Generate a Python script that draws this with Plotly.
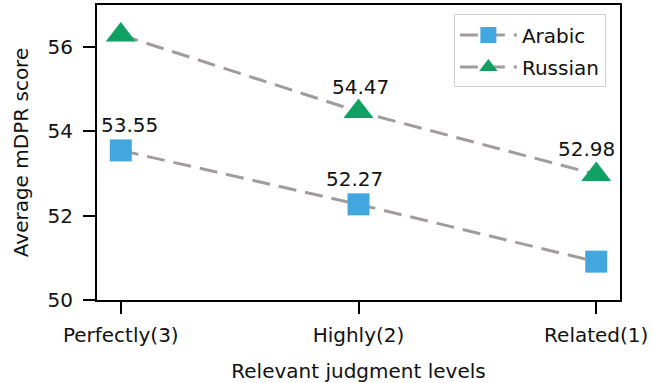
import plotly.graph_objects as go

levels = ["Perfectly(3)", "Highly(2)", "Related(1)"]
arabic = [53.55, 52.27, 50.91]
russian = [56.29, 54.47, 52.98]
# which points carry a value label, and small horizontal nudges for them
arabic_labeled = [True, True, False]
russian_labeled = [False, True, True]
arabic_shift = [9, -4, 0]
russian_shift = [0, 2, -10]

font_family = "DejaVu Sans"
text_size = 20
blue = "#42A7DE"
green = "#10A064"
line_gray = "#A09C9C"
dash_style = "18px,9px"

fig = go.Figure()
fig.add_trace(go.Scatter(
    x=list(range(len(levels))), y=arabic, name="Arabic",
    mode="lines+markers", legendgroup="ar",
    line=dict(color=line_gray, width=3, dash=dash_style),
    marker=dict(symbol="square", size=22, color=blue, line=dict(width=0)),
))
fig.add_trace(go.Scatter(
    x=list(range(len(levels))), y=russian, name="Russian",
    mode="lines+markers", legendgroup="ru",
    line=dict(color=line_gray, width=3, dash=dash_style),
    marker=dict(symbol="triangle-up", size=26, color=green, line=dict(width=0)),
))

annotations = []
for vals, flags, shifts in ((arabic, arabic_labeled, arabic_shift),
                            (russian, russian_labeled, russian_shift)):
    for i, (v, f, s) in enumerate(zip(vals, flags, shifts)):
        if f:
            annotations.append(dict(
                x=i, y=v, text=f"{v:.2f}", showarrow=False,
                yshift=25, xshift=s,
                font=dict(family=font_family, size=text_size, color="#111111"),
            ))

fig.update_layout(
    width=653, height=383,
    margin=dict(l=97, r=33, t=5, b=83),
    paper_bgcolor="white", plot_bgcolor="white",
    font=dict(family=font_family, size=text_size, color="#111111"),
    annotations=annotations,
    showlegend=True,
    legend=dict(
        x=0.973, y=0.968, xanchor="right", yanchor="top",
        bgcolor="rgba(255,255,255,0.9)", bordercolor="#D0D0D0", borderwidth=1,
        font=dict(family=font_family, size=text_size),
        itemwidth=57, tracegroupgap=3,
    ),
    xaxis=dict(
        range=[-0.1, 2.1], tickmode="array",
        tickvals=list(range(len(levels))), ticktext=levels,
        showgrid=False, zeroline=False, automargin=False,
        showline=True, linecolor="black", linewidth=2, mirror=True,
        ticks="outside", ticklen=12, tickwidth=1.5, tickcolor="black",
        ticklabelstandoff=4,
        title=dict(text="Relevant judgment levels", standoff=22,
                   font=dict(family=font_family, size=text_size)),
    ),
    yaxis=dict(
        range=[50, 57], tickvals=[50, 52, 54, 56],
        showgrid=False, zeroline=False, automargin=False,
        showline=True, linecolor="black", linewidth=2, mirror=True,
        ticks="outside", ticklen=12, tickwidth=1.5, tickcolor="black",
        ticklabelstandoff=6,
        title=dict(text="Average mDPR score", standoff=14,
                   font=dict(family=font_family, size=text_size)),
    ),
)

fig.write_html("out.html")
